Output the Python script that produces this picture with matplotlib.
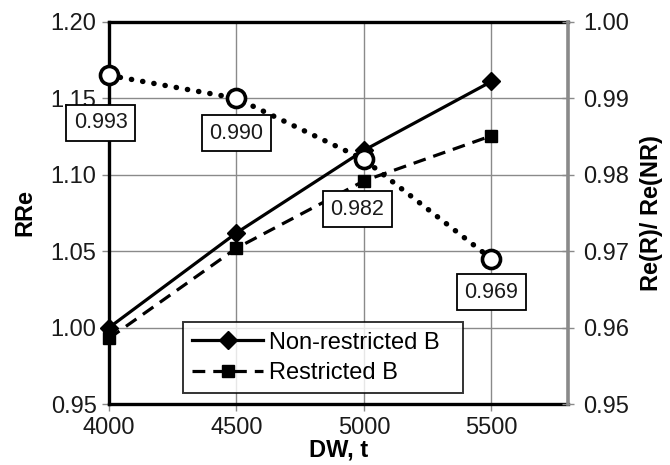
import matplotlib.pyplot as plt

plt.rcParams['font.family'] = ['Liberation Sans', 'DejaVu Sans']

# displacement, t
dw = [4000, 4500, 5000, 5500]
# relative resistance
rre_nonrestricted = [1.000, 1.062, 1.116, 1.161]
rre_restricted = [0.993, 1.052, 1.096, 1.1255]
# ratio Re(R)/Re(NR)
ratio = [0.993, 0.990, 0.982, 0.969]
ratio_labels = ["0.993", "0.990", "0.982", "0.969"]
# label offsets (points) below each ratio marker
label_offsets = [(-6, -34), (0, -25), (-5, -36), (0, -24)]

grid_c = "#8a8a8a"
txt_c = "#1a1a1a"

fig = plt.figure(figsize=(6.7, 4.65), dpi=100)
ax = fig.add_axes([0.1627, 0.131, 0.685, 0.822])

ax.plot(dw, rre_nonrestricted, color="black", lw=2.3, marker="D", ms=9.5,
        label="Non-restricted B", zorder=3, clip_on=False)
ax.plot(dw, rre_restricted, color="black", lw=2.3, ls=(0, (4, 2.5)), marker="s",
        ms=9, label="Restricted B", zorder=3, clip_on=False)

ax.set_xlim(4000, 5800)
ax.set_ylim(0.95, 1.20)
ax.set_xticks([4000, 4500, 5000, 5500])
ax.set_yticks([0.95, 1.00, 1.05, 1.10, 1.15, 1.20])
ax.set_yticklabels(["0.95", "1.00", "1.05", "1.10", "1.15", "1.20"])
ax.grid(True, color=grid_c, lw=1.0)
ax.set_axisbelow(True)
ax.tick_params(axis="both", labelsize=17, colors=grid_c, labelcolor=txt_c,
               length=5, width=1.0, pad=4)

for s in ["left", "bottom", "top"]:
    ax.spines[s].set_color("black")
    ax.spines[s].set_linewidth(2.4)
ax.spines["right"].set_visible(False)

ax.set_xlabel("DW, t", fontsize=17, fontweight="bold", labelpad=0)
ax.set_ylabel("RRe", fontsize=17, fontweight="bold", labelpad=10)

leg = ax.legend(loc="lower left", bbox_to_anchor=(0.161, 0.028, 0.61, 0.19),
                mode="expand", borderaxespad=0,
                fontsize=17, handlelength=3.0, handletextpad=0.25,
                frameon=True, fancybox=False, borderpad=0.4, labelspacing=0.35)
leg.get_frame().set_edgecolor("black")
leg.get_frame().set_linewidth(1.4)

ax2 = ax.twinx()
ax2.plot(dw, ratio, color="black", lw=3.9, ls=(0, (0.05, 2.05)),
         dash_capstyle="round", marker="o", ms=13, mfc="white", mec="black",
         mew=2.6, zorder=4, clip_on=False)
ax2.set_ylim(0.95, 1.00)
ax2.set_yticks([0.95, 0.96, 0.97, 0.98, 0.99, 1.00])
ax2.set_yticklabels(["0.95", "0.96", "0.97", "0.98", "0.99", "1.00"])
ax2.tick_params(axis="y", labelsize=17, colors=grid_c, labelcolor=txt_c,
                direction="inout", length=8, width=1.0, pad=7)
for s in ["left", "bottom", "top"]:
    ax2.spines[s].set_visible(False)
ax2.spines["right"].set_color(grid_c)
ax2.spines["right"].set_linewidth(2.6)
ax2.set_ylabel("Re(R)/ Re(NR)", fontsize=17, fontweight="bold", labelpad=8)

for x, y, txt, off in zip(dw, ratio, ratio_labels, label_offsets):
    ax2.annotate(txt, xy=(x, y), xytext=off, textcoords="offset points",
                 ha="center", va="center", fontsize=15.5, color=txt_c,
                 bbox=dict(boxstyle="square,pad=0.35", fc="white", ec="black", lw=1.3),
                 zorder=5)

fig.savefig("out.png", dpi=100)
